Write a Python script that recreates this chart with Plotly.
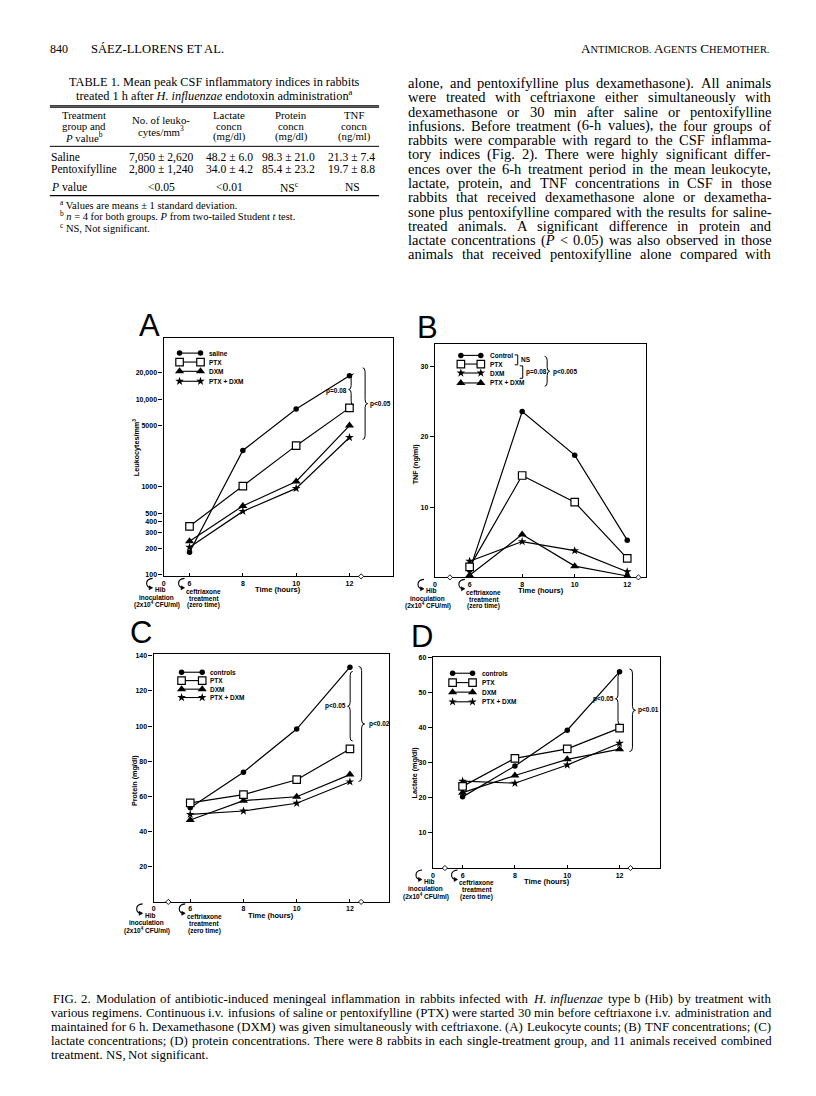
import re
import plotly.graph_objects as go

W, H = 816, 1096
SERIF = "Liberation Serif, Times New Roman, serif"
SANS = "Liberation Sans, Arial, sans-serif"

# ---------------- chart data ----------------
hours = [6, 8, 10, 12]
time_ticks = [6, 8, 10, 12]

# Panel A: leukocytes / mm3 (log axis)
leuk_saline = [180, 2600, 7700, 18500]
leuk_ptx = [355, 1020, 2950, 7950]
leuk_dxm = [240, 605, 1150, 5000]
leuk_ptx_dxm = [205, 525, 960, 3650]
leuk_ticks = [100, 200, 300, 400, 500, 1000, 5000, 10000, 20000]
leuk_ticktext = ["100", "200", "300", "400", "500", "1000", "5000", "10,000", "20,000"]

# Panel B: TNF (ng/ml)
tnf_control = [1.0, 23.6, 17.4, 5.3]
tnf_ptx = [1.5, 14.5, 10.7, 2.7]
tnf_dxm = [2.3, 5.1, 3.8, 0.8]
tnf_ptx_dxm = [0.3, 6.1, 1.6, 0.2]
tnf_ticks = [10, 20, 30]

# Panel C: protein (mg/dl)
prot_controls = [53.5, 73.8, 98.3, 133.5]
prot_ptx = [56.3, 61.0, 69.5, 87.0]
prot_dxm = [46.6, 57.6, 59.8, 72.4]
prot_ptx_dxm = [49.8, 51.7, 56.1, 68.3]
prot_ticks = [20, 40, 60, 80, 100, 120, 140]

# Panel D: lactate (mg/dl)
lact_controls = [20.3, 29.1, 39.3, 56.0]
lact_ptx = [23.3, 31.3, 34.0, 39.9]
lact_dxm = [21.5, 26.4, 31.0, 33.9]
lact_ptx_dxm = [24.8, 24.2, 29.4, 35.6]
lact_ticks = [10, 20, 30, 40, 50, 60]

# ---------------- table data ----------------
table_title = ["TABLE 1. Mean peak CSF inflammatory indices in rabbits",
               "treated 1 h after <i>H. influenzae</i> endotoxin administration<sup>a</sup>"]
table_head_col1 = ["Treatment", "group and", "<i>P</i> value<sup>b</sup>"]
table_head_col2 = ["No. of leuko-", "cytes/mm<sup>3</sup>"]
table_head_col3 = ["Lactate", "concn", "(mg/dl)"]
table_head_col4 = ["Protein", "concn", "(mg/dl)"]
table_head_col5 = ["TNF", "concn", "(ng/ml)"]
table_groups = ["Saline", "Pentoxifylline"]
table_leuko = ["7,050 ± 2,620", "2,800 ± 1,240"]
table_lactate = ["48.2 ± 6.0", "34.0 ± 4.2"]
table_protein = ["98.3 ± 21.0", "85.4 ± 23.2"]
table_tnf = ["21.3 ± 7.4", "19.7 ± 8.8"]
table_p = ["&lt;0.05", "&lt;0.01", "NS<sup>c</sup>", "NS"]
table_notes = ["<sup>a</sup> Values are means ± 1 standard deviation.",
               "<sup>b</sup> <i>n</i> = 4 for both groups. <i>P</i> from two-tailed Student <i>t</i> test.",
               "<sup>c</sup> NS, Not significant."]

body_lines = [
    "alone, and pentoxifylline plus dexamethasone). All animals",
    "were treated with ceftriaxone either simultaneously with",
    "dexamethasone or 30 min after saline or pentoxifylline",
    "infusions. Before treatment (6-h values), the four groups of",
    "rabbits were comparable with regard to the CSF inflamma-",
    "tory indices (Fig. 2). There were highly significant differ-",
    "ences over the 6-h treatment period in the mean leukocyte,",
    "lactate, protein, and TNF concentrations in CSF in those",
    "rabbits that received dexamethasone alone or dexametha-",
    "sone plus pentoxifylline compared with the results for saline-",
    "treated animals. A significant difference in protein and",
    "lactate concentrations (<i>P</i> &lt; 0.05) was also observed in those",
    "animals that received pentoxifylline alone compared with",
]

caption_lines = [
    "FIG. 2. Modulation of antibiotic-induced meningeal inflammation in rabbits infected with <i>H.</i> <i>influenzae</i> type b (Hib) by treatment with",
    "various regimens. Continuous i.v. infusions of saline or pentoxifylline (PTX) were started 30 min before ceftriaxone i.v. administration and",
    "maintained for 6 h. Dexamethasone (DXM) was given simultaneously with ceftriaxone. (A) Leukocyte counts; (B) TNF concentrations; (C)",
    "lactate concentrations; (D) protein concentrations. There were 8 rabbits in each single-treatment group, and 11 animals received combined",
    "treatment. NS, Not significant.",
]

# ---------------- helpers ----------------
annotations = []
shapes = []


def X(p):
    return p / W


def Y(p):
    return 1 - p / H


def P(x, y):
    return f"{X(x):.5f},{Y(y):.5f}"


def add_text(s, x, y, size, family=SERIF, xanchor="left", weight="normal", angle=0):
    annotations.append(dict(text=s, x=X(x), y=Y(y), xref="paper", yref="paper",
                            showarrow=False, xanchor=xanchor, yanchor="middle",
                            textangle=angle, borderpad=0,
                            font=dict(family=family, size=size, color="black", weight=weight)))


TW = {' ': 250, '!': 333, '"': 408, '%': 833, '&': 778, "'": 333, '(': 333, ')': 333,
      '*': 500, '+': 564, ',': 250, '-': 333, '.': 250, '/': 278, ':': 278, ';': 278,
      '<': 564, '=': 564, '>': 564, '?': 444, '±': 564, '[': 333, ']': 333}
for c in "0123456789":
    TW[c] = 500
TW.update(dict(A=722, B=667, C=667, D=722, E=611, F=556, G=722, H=722, I=333, J=389, K=722,
               L=611, M=889, N=722, O=722, P=556, Q=722, R=667, S=556, T=611, U=722, V=722,
               W=944, X=722, Y=722, Z=611))
TW.update(dict(a=444, b=500, c=444, d=500, e=444, f=333, g=500, h=500, i=278, j=278, k=500,
               l=278, m=778, n=500, o=500, p=500, q=500, r=333, s=389, t=278, u=500, v=500,
               w=722, x=500, y=500, z=444))


def plain(s):
    s = re.sub(r"<[^>]+>", "", s)
    return s.replace("&lt;", "<").replace("&gt;", ">").replace("&amp;", "&")


def em(s):
    return sum(TW.get(c, 500) for c in plain(s)) / 1000.0


def fit_size(lines, width):
    best = 99
    for l in lines:
        ws = l.split()
        best = min(best, width / (sum(em(w) for w in ws) + 0.23 * (len(ws) - 1)))
    return best


def justify(line, x0, x1, y, size, last=False):
    words = line.split()
    widths = [em(w) * size for w in words]
    if last or len(words) < 2:
        gap = 0.25 * size
    else:
        gap = (x1 - x0 - sum(widths)) / (len(words) - 1)
    x = x0
    for w, wd in zip(words, widths):
        add_text(w, x, y, size)
        x += wd + gap


def hline(x0, x1, y, w=1.0):
    shapes.append(dict(type="line", xref="paper", yref="paper", x0=X(x0), x1=X(x1),
                       y0=Y(y), y1=Y(y), line=dict(color="black", width=w)))


def add_path(p, lw=1.0, fill=None):
    d = dict(type="path", xref="paper", yref="paper", path=p, line=dict(color="black", width=lw))
    if fill:
        d["fillcolor"] = fill
    shapes.append(d)


def brace(x, y0, y1, w, d, lw=1.0):
    h = w / 2.0
    ym = (y0 + y1) / 2.0
    r = min(4.0, (y1 - y0) / 4.0)
    xs = x + d * h
    xt = x + d * w
    p = (f"M{P(x, y0)} Q{P(xs, y0)} {P(xs, y0 + r)} L{P(xs, ym - r)} Q{P(xs, ym)} {P(xt, ym)} "
         f"Q{P(xs, ym)} {P(xs, ym + r)} L{P(xs, y1 - r)} Q{P(xs, y1)} {P(x, y1)}")
    add_path(p, lw)


def bracket(x, y0, y1, w=3, lw=1.0):
    add_path(f"M{P(x - w, y0)} L{P(x, y0)} L{P(x, y1)} L{P(x - w, y1)}", lw)


def diamond(x, y, s=2.6):
    add_path(f"M{P(x - s, y)} L{P(x, y - s)} L{P(x + s, y)} L{P(x, y + s)} Z", 0.9, fill="white")


def hook(xr, yb, w=6):
    add_path(f"M{P(xr, yb + 2)} Q{P(xr - w, yb + 2.5)} {P(xr - w, yb + 7)} "
             f"Q{P(xr - w, yb + 11.5)} {P(xr - 1, yb + 11.5)}", 1.1)
    add_path(f"M{P(xr - 3.5, yb + 9.5)} L{P(xr, yb + 11.5)} L{P(xr - 3.5, yb + 13.5)} Z", 0.6, fill="black")


# ---------------- page text ----------------
add_text("840", 47.5, 46.5, 12)
add_text("SÁEZ-LLORENS ET AL.", 88, 46.5, 12.6)
sc = 'style="font-size:10.4px"'
add_text(f'A<span {sc}>NTIMICROB.</span> A<span {sc}>GENTS</span> C<span {sc}>HEMOTHER.</span>',
         770, 46, 13.2, xanchor="right")

# table
add_text(table_title[0], 213, 79.5, 12.3, xanchor="center")
add_text(table_title[1], 213, 92, 12.3, xanchor="center")
hline(48, 378, 103.3, 1.1)
hline(48, 378, 104.8, 1.1)
hs = 10.8
hy = [112.3, 123.3, 134.3]
for i, t in enumerate(table_head_col1):
    add_text(t, 82, hy[i], hs, xanchor="center")
for i, t in enumerate(table_head_col2):
    add_text(t, 159, 117.5 + 11 * i, hs, xanchor="center")
for col, cx in ((table_head_col3, 228), (table_head_col4, 290), (table_head_col5, 353)):
    for i, t in enumerate(col):
        add_text(t, cx, hy[i], hs, xanchor="center")
hline(48, 378, 144, 1.0)
bs = 11.6
for i in range(2):
    yy = 155 + 12.4 * i
    add_text(table_groups[i], 48, yy, bs)
    add_text(table_leuko[i], 159.5, yy, bs, xanchor="center")
    add_text(table_lactate[i], 228, yy, bs, xanchor="center")
    add_text(table_protein[i], 287, yy, bs, xanchor="center")
    add_text(table_tnf[i], 350, yy, bs, xanchor="center")
add_text("<i>P</i> value", 48, 185, bs)
for t, cx in zip(table_p, (160, 228, 288, 351.5)):
    add_text(t, cx, 185, bs, xanchor="center")
hline(48, 378, 193.5, 1.2)
for i, t in enumerate(table_notes):
    add_text(t, 57, 202 + 11.6 * i, 10.5)

# right column text (justified)
bsz = fit_size(body_lines, 364) * 0.97
for i, l in enumerate(body_lines):
    justify(l, 406, 770, 80.5 + 14.33 * i, bsz)

# caption (justified)
csz = fit_size(caption_lines[1:4], 722) * 0.99
cap_y = [1001 + 14 * i for i in range(5)]
justify(caption_lines[0], 50, 770, cap_y[0], csz)
for i in (1, 2, 3):
    justify(caption_lines[i], 48, 770, cap_y[i], csz)
justify(caption_lines[4], 48, 770, cap_y[4], csz, last=True)

# ---------------- panels ----------------
geom = {
    "A": dict(left=162, right=392, top=337, bottom=576, x6=188.0),
    "B": dict(left=434, right=646, top=343, bottom=577, x6=469.0),
    "C": dict(left=152, right=388, top=654, bottom=903, x6=188.7),
    "D": dict(left=432, right=660, top=657, bottom=869, x6=461.7),
}
xranges = {"A": [5.027, 13.635], "B": [4.68, 12.73], "C": [4.624, 13.47], "D": [4.867, 13.56]}
yranges = {"A": [1.979, 4.692], "B": [0, 33.16], "C": [0, 141.0], "D": [0, 60.2]}
yticks = {"A": (leuk_ticks, leuk_ticktext),
          "B": (tnf_ticks, [str(v) for v in tnf_ticks]),
          "C": (prot_ticks, [str(v) for v in prot_ticks]),
          "D": (lact_ticks, [str(v) for v in lact_ticks])}
ytitles = {"A": ("Leukocytes/mm<sup>3</sup>", 134.5, 447),
           "B": ("TNF (ng/ml)", 414.5, 463),
           "C": ("Protein (mg/dl)", 133, 781),
           "D": ("Lactate (mg/dl)", 413, 773)}
letters = {"A": (147.5, 324), "B": (427, 325.5), "C": (139, 632), "D": (421.5, 636)}

MK = {
    "circle": dict(symbol="circle", size=5.5, color="black"),
    "square": dict(symbol="square", size=7.5, color="white", line=dict(color="black", width=1.2)),
    "triangle": dict(symbol="triangle-up", size=8, color="black", line=dict(width=0)),
    "star": dict(symbol="star", size=6.5, color="black", line=dict(width=0)),
}

series = {
    "A": [(leuk_saline, "circle", "saline"), (leuk_dxm, "triangle", "DXM"),
          (leuk_ptx_dxm, "star", "PTX + DXM"), (leuk_ptx, "square", "PTX")],
    "B": [(tnf_control, "circle", "Control"), (tnf_dxm, "star", "DXM"),
          (tnf_ptx_dxm, "triangle", "PTX + DXM"), (tnf_ptx, "square", "PTX")],
    "C": [(prot_controls, "circle", "controls"), (prot_dxm, "triangle", "DXM"),
          (prot_ptx_dxm, "star", "PTX + DXM"), (prot_ptx, "square", "PTX")],
    "D": [(lact_controls, "circle", "controls"), (lact_dxm, "triangle", "DXM"),
          (lact_ptx_dxm, "star", "PTX + DXM"), (lact_ptx, "square", "PTX")],
}

fig = go.Figure()
layout_axes = {}
tickfont = dict(family=SANS, size=7, color="black", weight="bold")
for k, name in enumerate("ABCD"):
    g = geom[name]
    sfx = "" if k == 0 else str(k + 1)
    xa, ya = "x" + sfx, "y" + sfx
    xr = xranges[name]
    layout_axes["xaxis" + sfx] = dict(
        domain=[X(g["left"]), X(g["right"])], range=xr, anchor=ya,
        tickvals=[xr[0]] + time_ticks, ticktext=["0"] + [str(t) for t in time_ticks],
        ticks="inside", ticklen=3, tickwidth=1, tickcolor="black",
        showline=True, mirror=True, linecolor="black", linewidth=1.3,
        showgrid=False, zeroline=False, tickfont=tickfont, fixedrange=True)
    tv, tt = yticks[name]
    yax = dict(
        domain=[Y(g["bottom"]), Y(g["top"])], range=yranges[name], anchor=xa,
        tickvals=tv, ticktext=tt, ticks="outside", ticklen=4, tickwidth=1, tickcolor="black",
        showline=True, mirror=True, linecolor="black", linewidth=1.3,
        showgrid=False, zeroline=False, tickfont=tickfont, fixedrange=True)
    if name == "A":
        yax["type"] = "log"
    layout_axes["yaxis" + sfx] = yax
    for vals, mk, label in series[name]:
        fig.add_trace(go.Scatter(x=hours, y=vals, xaxis=xa, yaxis=ya, mode="lines+markers",
                                 line=dict(color="black", width=1.2), marker=MK[mk],
                                 cliponaxis=False, showlegend=False, name=label,
                                 hoverinfo="skip"))
    lf, bt, x6 = g["left"], g["bottom"], g["x6"]
    add_text("Time (hours)", (g["left"] + g["right"]) / 2, bt + 13.5, 7.5, SANS, "center", "bold")
    t, tx, ty = ytitles[name]
    add_text(t, tx, ty, 7.2, SANS, "center", "bold", angle=-90)
    lx, ly = letters[name]
    add_text(name, lx, ly, 31, SANS, "center")
    hook(lf - 11, bt)
    hook(x6 - 5, bt)
    add_text("Hib", lf - 9.5, bt + 13.5, 6.5, SANS, "left", "bold")
    add_text("inoculation", lf - 7, bt + 21, 6.5, SANS, "center", "bold")
    add_text("(2x10<sup>4</sup> CFU/ml)", lf - 7, bt + 28.5, 6.5, SANS, "center", "bold")
    add_text("ceftriaxone", x6 + 14, bt + 15, 6.5, SANS, "center", "bold")
    add_text("treatment", x6 + 14, bt + 22, 6.5, SANS, "center", "bold")
    add_text("(zero time)", x6 + 14, bt + 29, 6.5, SANS, "center", "bold")

# x-axis break marks
for bx, by in ((360, 576), (449, 577), (638, 577), (166.7, 903), (360, 903), (444, 869), (630, 869)):
    diamond(bx, by)

# legend glyphs (overlay axis in page pixels)
layout_axes["xaxis5"] = dict(domain=[0, 1], range=[0, W], visible=False, anchor="y5", fixedrange=True)
layout_axes["yaxis5"] = dict(domain=[0, 1], range=[H, 0], visible=False, anchor="x5", fixedrange=True)
legend_rows = {
    "A": (178, 199, 207, [351.7, 360.7, 370, 380]),
    "B": (460, 480, 488, [354, 362.7, 371.7, 381.7]),
    "C": (180, 200.7, 208, [672.3, 680.7, 689.3, 697.7]),
    "D": (451.7, 471.7, 480, [673.3, 682.7, 692.3, 702]),
}
legend_order = {
    "A": [("circle", "saline"), ("square", "PTX"), ("triangle", "DXM"), ("star", "PTX + DXM")],
    "B": [("circle", "Control"), ("square", "PTX"), ("star", "DXM"), ("triangle", "PTX + DXM")],
    "C": [("circle", "controls"), ("square", "PTX"), ("triangle", "DXM"), ("star", "PTX + DXM")],
    "D": [("circle", "controls"), ("square", "PTX"), ("triangle", "DXM"), ("star", "PTX + DXM")],
}
for name in "ABCD":
    x0, x1, tx, ys = legend_rows[name]
    for (mk, label), yy in zip(legend_order[name], ys):
        fig.add_trace(go.Scatter(x=[x0, x1], y=[yy, yy], xaxis="x5", yaxis="y5",
                                 mode="lines+markers", line=dict(color="black", width=1.1),
                                 marker=MK[mk], showlegend=False, hoverinfo="skip",
                                 cliponaxis=False))
        add_text(label, tx, yy, 6.5, SANS, "left", "bold")

# significance braces and labels
brace(352.5, 372.5, 404, 5, -1)
add_text("p=0.08", 346.5, 389.5, 6.5, SANS, "right", "bold")
brace(361.5, 366.5, 438.5, 5, +1)
add_text("p&lt;0.05", 367.5, 403, 6.5, SANS, "left", "bold")

bracket(517, 353.5, 363.5)
add_text("NS", 519.5, 358.5, 6.5, SANS, "left", "bold")
bracket(522, 364.5, 377)
add_text("p=0.08", 524.5, 370.5, 6.5, SANS, "left", "bold")
brace(544, 355, 385, 5, +1)
add_text("p&lt;0.005", 551.5, 370.5, 6.5, SANS, "left", "bold")

brace(351.5, 671.5, 741.5, 5, -1)
add_text("p&lt;0.05", 345.5, 706.5, 6.5, SANS, "right", "bold")
brace(357.5, 666.5, 782, 6, +1)
add_text("p&lt;0.02", 366.5, 724.5, 6.5, SANS, "left", "bold")

brace(620, 673, 725, 5, -1)
add_text("p&lt;0.05", 614.5, 699, 6.5, SANS, "right", "bold")
brace(629, 669, 752, 6, +1)
add_text("p&lt;0.01", 637, 710.5, 6.5, SANS, "left", "bold")

fig.update_layout(
    width=W, height=H, autosize=False,
    margin=dict(l=0, r=0, t=0, b=0),
    paper_bgcolor="white", plot_bgcolor="rgba(0,0,0,0)",
    showlegend=False, annotations=annotations, shapes=shapes,
    **layout_axes)

# remove the browser's default 8px body margin so the page pixels line up; no mode bar
fig.write_html("out.html", config={"displayModeBar": False},
               post_script="document.body.style.margin='0px';document.body.style.overflow='hidden';")
